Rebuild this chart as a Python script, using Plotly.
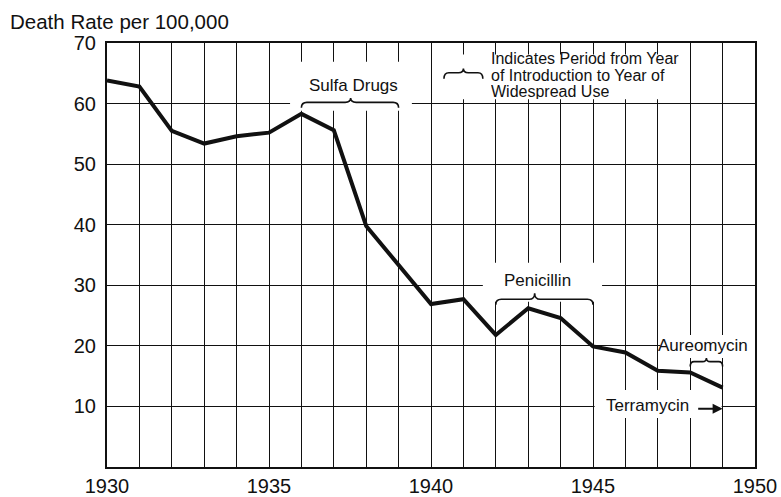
import plotly.graph_objects as go

# ---- data ----
years = list(range(1930, 1950))
rates = [63.8, 62.8, 55.5, 53.4, 54.6, 55.2, 58.3, 55.6, 39.8, 33.4,
         26.9, 27.7, 21.8, 26.2, 24.6, 19.9, 18.9, 15.9, 15.6, 13.1]

x_ticks = [1930, 1935, 1940, 1945, 1950]
y_ticks = [10, 20, 30, 40, 50, 60, 70]

drugs = ["Sulfa Drugs", "Penicillin", "Aureomycin"]
intro_year = [1936, 1942, 1948]
widespread_year = [1939, 1945, 1949]
terramycin_year = 1949

legend_lines = ["Indicates Period from Year", "of Introduction to Year of", "Widespread Use"]

FONT = "Liberation Sans, Arial, Helvetica, sans-serif"
INK = "#111111"

# ---- brace geometry (style) ----
brace_style = {
    "Sulfa Drugs": dict(xpeak=1937.52, ytop=60.2, yend=59.3, ypeak=60.9, dx=0.17,
                        lx=1937.61, ly=63.0, box=(1935.65, 1939.41, 58.8, 66.9)),
    "Penicillin": dict(xpeak=1943.2, ytop=27.7, yend=26.8, ypeak=28.7, dx=0.17,
                       lx=1943.30, ly=30.8, box=(1941.6, 1945.28, 27.3, 33.7)),
    "Aureomycin": dict(xpeak=1948.5, ytop=17.4, yend=16.6, ypeak=18.0, dx=0.12,
                       lx=1948.38, ly=20.1, box=(1947.08, 1950.0, 18.0, 21.8)),
}


def brace_path(x0, x1, xpeak, ytop, yend, ypeak, dx):
    return (f"M {x0},{yend} Q {x0},{ytop} {x0+dx},{ytop} "
            f"L {xpeak-dx},{ytop} Q {xpeak},{ytop} {xpeak},{ypeak} "
            f"Q {xpeak},{ytop} {xpeak+dx},{ytop} "
            f"L {x1-dx},{ytop} Q {x1},{ytop} {x1},{yend}")


fig = go.Figure()
fig.add_trace(go.Scatter(x=years, y=rates, mode="lines",
                         line=dict(color=INK, width=4), hoverinfo="skip",
                         showlegend=False))

shapes = []
annotations = []

for name, x0, x1 in zip(drugs, intro_year, widespread_year):
    s = brace_style[name]
    bx0, bx1, by0, by1 = s["box"]
    shapes.append(dict(type="rect", xref="x", yref="y", x0=bx0, x1=bx1, y0=by0, y1=by1,
                       fillcolor="white", line=dict(width=0), layer="between"))
    shapes.append(dict(type="path", xref="x", yref="y",
                       path=brace_path(x0, x1, s["xpeak"], s["ytop"], s["yend"], s["ypeak"], s["dx"]),
                       line=dict(color=INK, width=1.6), layer="above"))
    annotations.append(dict(x=s["lx"], y=s["ly"], xref="x", yref="y", text=name,
                            showarrow=False, font=dict(family=FONT, size=17, color=INK),
                            xanchor="center", yanchor="middle"))

# Legend box and brace
shapes.append(dict(type="rect", xref="x", yref="y", x0=1940.19, x1=1947.81, y0=60.7, y1=68.1,
                   fillcolor="white", line=dict(width=0), layer="between"))
shapes.append(dict(type="path", xref="x", yref="y",
                   path=brace_path(1940.40, 1941.60, 1941.0, 65.1, 64.1, 65.8, 0.15),
                   line=dict(color=INK, width=1.6), layer="above"))
for txt, yy in zip(legend_lines, [67.5, 64.8, 62.1]):
    annotations.append(dict(x=1941.78, y=yy, xref="x", yref="y", text=txt, showarrow=False,
                            font=dict(family=FONT, size=16, color=INK), height=16,
                            xanchor="left", yanchor="middle"))

# Terramycin
shapes.append(dict(type="rect", xref="x", yref="y", x0=1945.05, x1=1948.97, y0=8.1, y1=12.7,
                   fillcolor="white", line=dict(width=0), layer="between"))
annotations.append(dict(x=1946.67, y=10.1, xref="x", yref="y", text="Terramycin",
                        showarrow=False, font=dict(family=FONT, size=17, color=INK),
                        xanchor="center", yanchor="middle"))
annotations.append(dict(x=terramycin_year, y=9.6, ax=terramycin_year - 0.8, ay=9.6,
                        xref="x", yref="y", axref="x", ayref="y", text="",
                        showarrow=True, arrowhead=2, arrowsize=1, arrowwidth=2,
                        arrowcolor=INK, standoff=0, startstandoff=0))

fig.update_layout(
    width=781, height=497,
    margin=dict(l=107, r=26, t=43, b=30, autoexpand=False),
    paper_bgcolor="white", plot_bgcolor="white",
    title=dict(text="Death Rate per 100,000", x=10/781, xanchor="left",
               y=1 - 22/497, yanchor="middle", xref="container", yref="container",
               font=dict(family=FONT, size=20.5, color=INK), automargin=False),
    font=dict(family=FONT, color=INK),
    shapes=shapes, annotations=annotations,
    xaxis=dict(range=[1930, 1950], tickvals=x_ticks, ticktext=[str(v) for v in x_ticks],
               showgrid=False, zeroline=False, showline=True, mirror=True, automargin=False,
               linecolor=INK, linewidth=2, ticks="", ticklabelstandoff=0,
               tickfont=dict(family=FONT, size=20, color=INK),
               minor=dict(dtick=1, tick0=1930, showgrid=True, gridcolor=INK, gridwidth=1.3)),
    yaxis=dict(range=[0, 70], tickvals=y_ticks, showgrid=True, gridcolor=INK, gridwidth=1.3,
               zeroline=False, showline=True, mirror=True, linecolor=INK, linewidth=2,
               automargin=False, ticks="", ticklabelstandoff=5,
               tickfont=dict(family=FONT, size=20, color=INK)),
)

fig.write_html("out.html", config={"displayModeBar": False},
               post_script="document.body.style.margin='0px';document.body.style.overflow='hidden';")
